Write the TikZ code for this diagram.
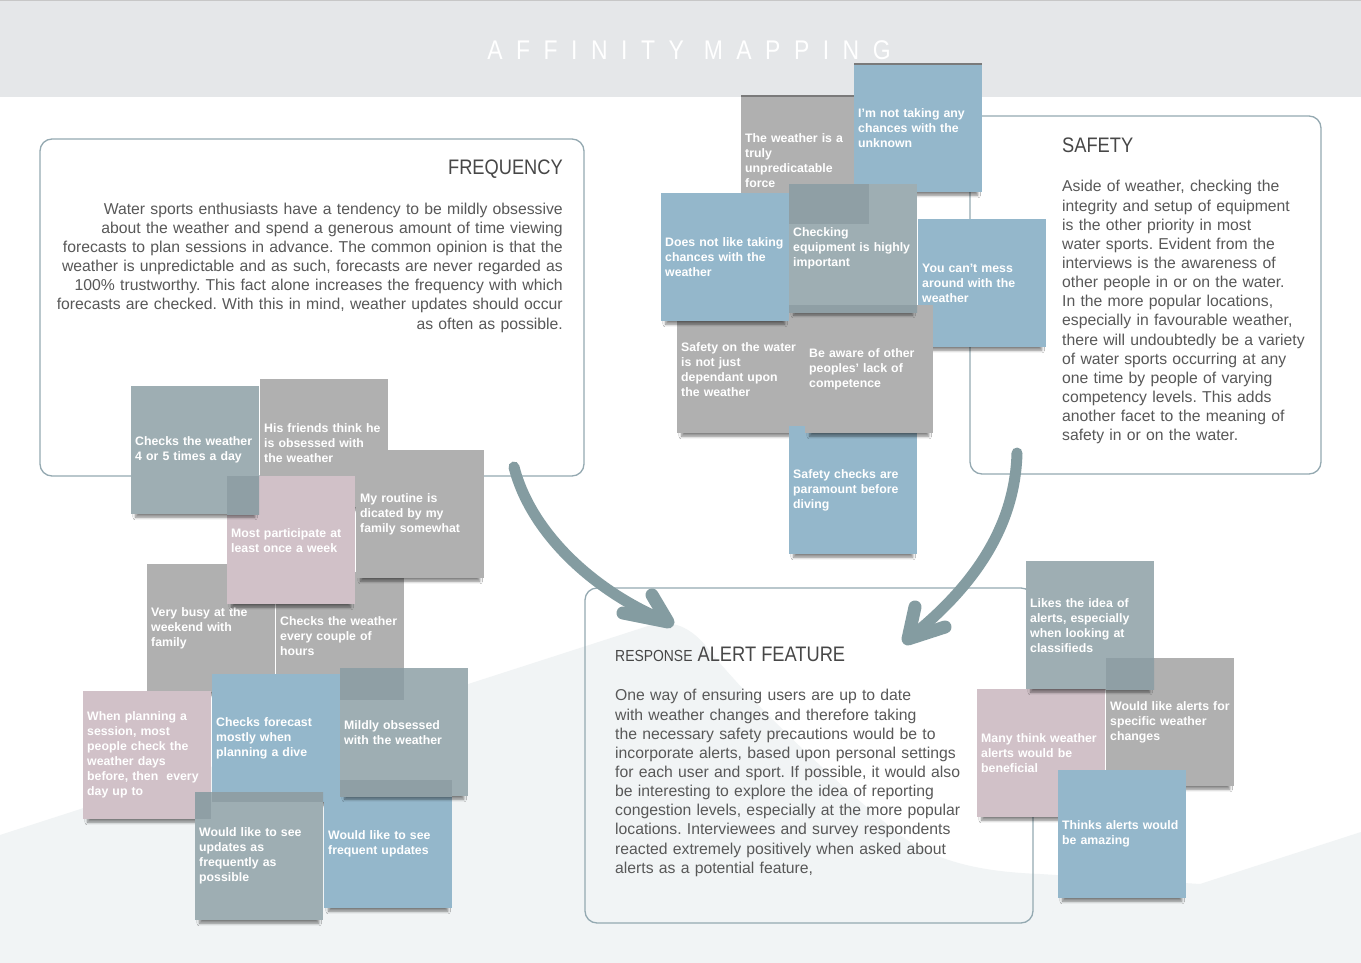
\documentclass[tikz,border=0pt]{standalone}
\usepackage{fontspec}
\setmainfont{Liberation Sans}
\newfontfamily\headfont[FakeStretch=0.87]{Liberation Sans}
\newfontfamily\bannerfont[FakeStretch=0.85,LetterSpace=50]{Liberation Sans}
\usetikzlibrary{shadows.blur}

\definecolor{noteblue}{HTML}{94B7CB}
\definecolor{noteslate}{HTML}{9EAEB3}
\definecolor{notegrey}{HTML}{B0B0B0}
\definecolor{notepink}{HTML}{D1C1C8}
\definecolor{overlapc}{HTML}{8F9FA5}
\definecolor{arrowc}{HTML}{849CA1}
\definecolor{framec}{HTML}{94A9B1}
\definecolor{headband}{HTML}{E5E7E9}
\definecolor{groundc}{HTML}{F1F4F5}
\definecolor{titlec}{HTML}{474747}
\definecolor{bodyc}{HTML}{585858}

\newcommand\notetext{\bfseries\fontsize{12.3}{15}\selectfont}
\newcommand\bodytext{\fontsize{15.75}{19.15}\selectfont}

\begin{document}
\frenchspacing
\begin{tikzpicture}[x=1pt,y=-1pt,
  note/.style={rectangle, anchor=north west, minimum width=128pt, minimum height=128pt,
    inner xsep=4pt, inner ysep=0pt, text width=120pt, align=left, text=white,
    font=\notetext,
    blur shadow={shadow xshift=0pt, shadow yshift=-8pt, shadow scale=0.93,
      shadow opacity=50, shadow blur radius=3pt}},
  bluenote/.style={note, fill=noteblue},
  slatenote/.style={note, fill=noteslate},
  greynote/.style={note, fill=notegrey},
  pinknote/.style={note, fill=notepink},
  over/.style={path picture={\foreach \o in {#1}
      {\fill[overlapc] (\o.north west) rectangle (\o.south east);}}},
  frame/.style={draw=framec, line width=1.3pt, rounded corners=12pt},
  title/.style={font=\headfont\fontsize{21}{25}\selectfont, text=titlec, inner sep=0pt},
  body/.style={font=\bodytext, text=bodyc, inner sep=0pt},
  shaft/.style={draw=arrowc, line width=11pt, line cap=round},
  head/.style={draw=arrowc, line width=13pt, line cap=round, line join=round}]

\useasboundingbox (0,0) rectangle (1361,963);
\fill[white] (0,0) rectangle (1361,963);

% pale ground sweeping across the lower half
\fill[groundc] (0,835) -- (645,627) .. controls (668,618) and (688,625) .. (705,645)
  .. controls (740,690) and (820,770) .. (900,835)
  .. controls (940,865) and (990,872) .. (1040,874)
  -- (1200,884) -- (1361,832) -- (1361,963) -- (0,963) -- cycle;

% header band
\fill[headband] (0,0) rectangle (1361,97);
\draw[black!22, line width=1pt] (0,0.5) -- (1361,0.5);
\node[font=\bannerfont\fontsize{27}{30}\selectfont, text=white, anchor=base, inner sep=0pt]
  (banner) at (689,60) {AFFINITY MAPPING};

% ---------- frequency ----------
\draw[frame] (40,139) rectangle (584,476);
\node[title, anchor=base east] (freqtitle) at (563,175) {FREQUENCY};
\node[body, anchor=north east, text width=540pt, align=right] (freqbody) at (563,200.6)
  {\strut Water sports enthusiasts have a tendency to be mildly obsessive\\
   about the weather and spend a generous amount of time viewing\\
   forecasts to plan sessions in advance. The common opinion is that the\\
   weather is unpredictable and as such, forecasts are never regarded as\\
   100\% trustworthy. This fact alone increases the frequency with which\\
   forecasts are checked. With this in mind, weather updates should occur\\
   as often as possible.};

% ---------- safety ----------
\draw[frame] (970,116) rectangle (1321,474);
\node[title, anchor=base west] (safetitle) at (1062,152.7) {SAFETY};
\node[body, anchor=north west, text width=300pt, align=left] (safebody) at (1062,178.3)
  {\strut Aside of weather, checking the\\
   integrity and setup of equipment\\
   is the other priority in most\\
   water sports. Evident from the\\
   interviews is the awareness of\\
   other people in or on the water.\\
   In the more popular locations,\\
   especially in favourable weather,\\
   there will undoubtedly be a variety\\
   of water sports occurring at any\\
   one time by people of varying\\
   competency levels. This adds\\
   another facet to the meaning of\\
   safety in or on the water.};

% ---------- response alert feature ----------
\draw[frame] (585,588) rectangle (1033,923);
\node[title, anchor=base west] (alerttitle) at (615,661.7)
  {{\fontsize{16}{20}\selectfont RESPONSE} ALERT FEATURE};
\node[body, anchor=north west, text width=400pt, align=left] (alertbody) at (615,687.3)
  {\strut One way of ensuring users are up to date\\
   with weather changes and therefore taking\\
   the necessary safety precautions would be to\\
   incorporate alerts, based upon personal settings\\
   for each user and sport. If possible, it would also\\
   be interesting to explore the idea of reporting\\
   congestion levels, especially at the more popular\\
   locations. Interviewees and survey respondents\\
   reacted extremely positively when asked about\\
   alerts as a potential feature,};

% ---------- frequency notes ----------
\node[greynote] (n5) at (147,564) {Very busy at the\\weekend with\\family};
\node[greynote] (n6) at (276,572) {Checks the weather\\every couple of\\hours};
\node[greynote] (n2) at (260,379) {His friends think he\\is obsessed with\\the weather};
\node[pinknote] (n4) at (227,476) {Most participate at\\least once a week};
\node[greynote] (n3) at (356,450) {My routine is\\dicated by my\\family somewhat};
\node[slatenote, over={n4}] (n1) at (131,386) {Checks the weather\\4 or 5 times a day};
\node[pinknote] (n7) at (83,691) {When planning a\\session, most\\people check the\\weather days\\before, then~~every\\day up to};
\node[bluenote] (n8) at (212,674) {Checks forecast\\mostly when\\planning a dive};
\node[bluenote] (n11) at (324,780) {Would like to see\\frequent updates};
\node[slatenote, over={n6,n11}] (n9) at (340,668) {Mildly obsessed\\with the weather};
\node[slatenote, over={n7,n8}] (n10) at (195,792) {Would like to see\\updates as\\frequently as\\possible};

% ---------- safety notes ----------
\node[greynote] (s1) at (741,96) {The weather is a\\truly\\unpredicatable\\force};
\node[bluenote] (s2) at (854,64) {I'm not taking any\\chances with the\\unknown};
\draw[black!52, line width=1.2pt] (s1.north west) -- (s2.north west |- s1.north);
\draw[black!52, line width=1.2pt] (s2.north west) -- (s2.north east);
\node[bluenote] (s5) at (918,219) {You can't mess\\around with the\\weather};
\node[greynote] (s6) at (677,305) {Safety on the water\\is not just\\dependant upon\\the weather};
\node[bluenote] (s8) at (789,426) {Safety checks are\\paramount before\\diving};
\node[greynote] (s7) at (805,305) {Be aware of other\\peoples' lack of\\competence};
\node[bluenote] (s3) at (661,193) {Does not like taking\\chances with the\\weather};
\node[slatenote, over={s1,s6,s7}] (s4) at (789,184) {Checking\\equipment is highly\\important};

% ---------- alert notes ----------
\node[greynote] (r2) at (1106,658) {Would like alerts for\\specific weather\\changes};
\node[pinknote] (r3) at (977,689) {Many think weather\\alerts would be\\beneficial};
\node[slatenote, over={r2}] (r1) at (1026,561) {Likes the idea of\\alerts, especially\\when looking at\\classifieds};
\node[bluenote] (r4) at (1058,770) {Thinks alerts would\\be amazing};

% ---------- arrows into the alert feature ----------
\coordinate (fstart) at (514,467);
\coordinate (ftip) at (668,622);
\coordinate (sstart) at (1017,453);
\coordinate (stip) at (908,639);
\draw[shaft] (fstart) .. controls (530,530) and (590,590) .. (ftip);
\draw[head] (652,595) -- (ftip) -- (623,613);
\draw[shaft] (sstart) .. controls (1015,530) and (970,590) .. (stip);
\draw[head] (915,607) -- (stip) -- (945,627);
\end{tikzpicture}
\end{document}
